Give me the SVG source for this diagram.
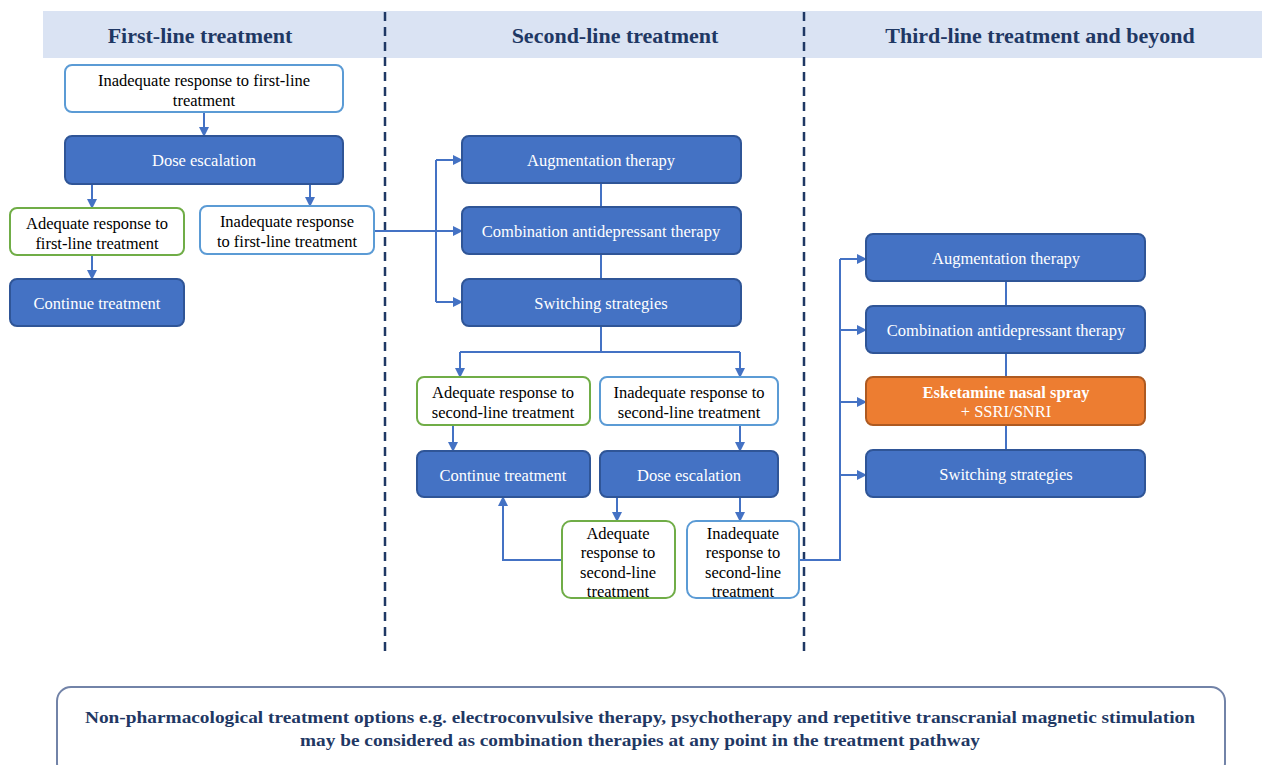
<svg xmlns="http://www.w3.org/2000/svg" width="1262" height="765" viewBox="0 0 1262 765">
  <defs>
    <marker id="arrow" viewBox="0 0 10 10" refX="9" refY="5" markerWidth="5" markerHeight="5" orient="auto-start-reverse">
      <path d="M0,0 L10,5 L0,10 z" fill="#4472c4"/>
    </marker>
  </defs>
  <style>
    text { font-family: "Liberation Serif", "Times New Roman", serif; text-anchor: middle; }
    .head { font-size: 22px; font-weight: bold; fill: #1f3864; }
    .solid rect { fill: #4472c4; stroke: #2f5597; stroke-width: 2; }
    .solid text { fill: #ffffff; font-size: 16.5px; }
    .blue rect { fill: #ffffff; stroke: #5b9bd5; stroke-width: 2; }
    .green rect { fill: #ffffff; stroke: #70ad47; stroke-width: 2; }
    .blue text, .green text { fill: #000000; font-size: 16.5px; }
    .orange rect { fill: #ed7d31; stroke: #ae5a21; stroke-width: 2; }
    .orange text { fill: #ffffff; font-size: 16.5px; }
    .link { fill: none; stroke: #4472c4; stroke-width: 2; }
    .arr { marker-end: url(#arrow); }
    .divider { stroke: #1f3864; stroke-width: 2.5; stroke-dasharray: 9 6; }
  </style>

  <!-- column header band -->
  <rect x="43" y="11" width="1219" height="47" fill="#dae3f3"/>
  <text class="head" x="200" y="43">First-line treatment</text>
  <text class="head" x="615" y="43">Second-line treatment</text>
  <text class="head" x="1040" y="43">Third-line treatment and beyond</text>

  <!-- column dividers -->
  <line class="divider" x1="385" y1="12" x2="385" y2="655"/>
  <line class="divider" x1="804" y1="12" x2="804" y2="655"/>

  <!-- connectors -->
  <g id="connectors">
    <!-- first line -->
    <path class="link arr" d="M204,112 V136"/>
    <path class="link arr" d="M92,184 V208"/>
    <path class="link arr" d="M310,184 V206"/>
    <path class="link arr" d="M92,255 V279"/>
    <!-- into second line -->
    <path class="link" d="M374,231 H436"/>
    <path class="link" d="M436,160 V302"/>
    <path class="link arr" d="M436,160 H462"/>
    <path class="link arr" d="M436,231 H462"/>
    <path class="link arr" d="M436,302 H462"/>
    <!-- second line options stack -->
    <path class="link" d="M601,183 V207"/>
    <path class="link" d="M601,254 V279"/>
    <path class="link" d="M601,326 V352"/>
    <path class="link" d="M460,352 H740"/>
    <path class="link arr" d="M460,352 V377"/>
    <path class="link arr" d="M740,352 V377"/>
    <path class="link arr" d="M453,425 V451"/>
    <path class="link arr" d="M740,425 V451"/>
    <path class="link arr" d="M617,497 V521"/>
    <path class="link arr" d="M740,497 V521"/>
    <path class="link arr" d="M562,560 H503 V497"/>
    <!-- into third line -->
    <path class="link" d="M799,560 H840 V259"/>
    <path class="link arr" d="M840,259 H866"/>
    <path class="link arr" d="M840,330 H866"/>
    <path class="link arr" d="M840,402 H866"/>
    <path class="link arr" d="M840,475 H866"/>
    <!-- third line options stack -->
    <path class="link" d="M1006,281 V306"/>
    <path class="link" d="M1006,353 V377"/>
    <path class="link" d="M1006,425 V450"/>
  </g>

  <!-- first-line nodes -->
  <g id="n-inadequate-1a" class="blue">
    <rect x="65" y="65" width="278" height="47" rx="7"/>
    <text x="204" y="86">Inadequate response to first-line</text>
    <text x="204" y="106">treatment</text>
  </g>
  <g id="n-dose-1" class="solid">
    <rect x="65" y="136" width="278" height="48" rx="7"/>
    <text x="204" y="166">Dose escalation</text>
  </g>
  <g id="n-adequate-1" class="green">
    <rect x="10" y="208" width="174" height="47" rx="7"/>
    <text x="97" y="229">Adequate response to</text>
    <text x="97" y="249">first-line treatment</text>
  </g>
  <g id="n-inadequate-1b" class="blue">
    <rect x="200" y="206" width="174" height="48" rx="7"/>
    <text x="287" y="227">Inadequate response</text>
    <text x="287" y="247">to first-line treatment</text>
  </g>
  <g id="n-continue-1" class="solid">
    <rect x="10" y="279" width="174" height="47" rx="7"/>
    <text x="97" y="309">Continue treatment</text>
  </g>

  <!-- second-line nodes -->
  <g id="n-augment-2" class="solid">
    <rect x="462" y="136" width="279" height="47" rx="7"/>
    <text x="601" y="166">Augmentation therapy</text>
  </g>
  <g id="n-combo-2" class="solid">
    <rect x="462" y="207" width="279" height="47" rx="7"/>
    <text x="601" y="237">Combination antidepressant therapy</text>
  </g>
  <g id="n-switch-2" class="solid">
    <rect x="462" y="279" width="279" height="47" rx="7"/>
    <text x="601" y="309">Switching strategies</text>
  </g>
  <g id="n-adequate-2a" class="green">
    <rect x="417" y="377" width="173" height="48" rx="7"/>
    <text x="503" y="398">Adequate response to</text>
    <text x="503" y="418">second-line treatment</text>
  </g>
  <g id="n-inadequate-2a" class="blue">
    <rect x="600" y="377" width="178" height="48" rx="7"/>
    <text x="689" y="398">Inadequate response to</text>
    <text x="689" y="418">second-line treatment</text>
  </g>
  <g id="n-continue-2" class="solid">
    <rect x="417" y="451" width="173" height="46" rx="7"/>
    <text x="503" y="481">Continue treatment</text>
  </g>
  <g id="n-dose-2" class="solid">
    <rect x="600" y="451" width="178" height="46" rx="7"/>
    <text x="689" y="481">Dose escalation</text>
  </g>
  <g id="n-adequate-2b" class="green">
    <rect x="562" y="521" width="113" height="77" rx="9"/>
    <text x="618" y="539">Adequate</text>
    <text x="618" y="558">response to</text>
    <text x="618" y="578">second-line</text>
    <text x="618" y="597">treatment</text>
  </g>
  <g id="n-inadequate-2b" class="blue">
    <rect x="687" y="521" width="112" height="77" rx="9"/>
    <text x="743" y="539">Inadequate</text>
    <text x="743" y="558">response to</text>
    <text x="743" y="578">second-line</text>
    <text x="743" y="597">treatment</text>
  </g>

  <!-- third-line nodes -->
  <g id="n-augment-3" class="solid">
    <rect x="866" y="234" width="279" height="47" rx="7"/>
    <text x="1006" y="264">Augmentation therapy</text>
  </g>
  <g id="n-combo-3" class="solid">
    <rect x="866" y="306" width="279" height="47" rx="7"/>
    <text x="1006" y="336">Combination antidepressant therapy</text>
  </g>
  <g id="n-esketamine-3" class="orange">
    <rect x="866" y="377" width="279" height="48" rx="7"/>
    <text x="1006" y="398" font-weight="bold">Esketamine nasal spray</text>
    <text x="1006" y="417">+ SSRI/SNRI</text>
  </g>
  <g id="n-switch-3" class="solid">
    <rect x="866" y="450" width="279" height="47" rx="7"/>
    <text x="1006" y="480">Switching strategies</text>
  </g>

  <!-- footnote box -->
  <g id="n-footnote">
    <rect x="57" y="687" width="1168" height="90" rx="14" fill="#ffffff" stroke="#7283a8" stroke-width="2"/>
    <text x="640" y="723" font-size="16.5" font-weight="bold" fill="#1f3864" textLength="1110" lengthAdjust="spacingAndGlyphs">Non-pharmacological treatment options e.g. electroconvulsive therapy, psychotherapy and repetitive transcranial magnetic stimulation</text>
    <text x="640" y="746" font-size="16.5" font-weight="bold" fill="#1f3864" textLength="680" lengthAdjust="spacingAndGlyphs">may be considered as combination therapies at any point in the treatment pathway</text>
  </g>
</svg>
